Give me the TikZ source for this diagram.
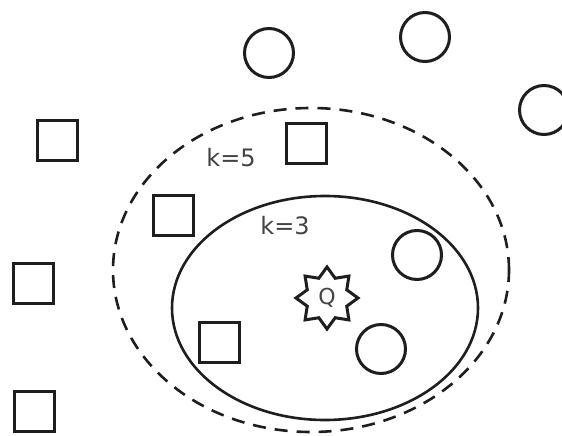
\documentclass[tikz,border=0pt]{standalone}
\usepackage{fontspec}
\setmainfont{DejaVu Sans}
\usetikzlibrary{shapes.geometric}
\definecolor{ink}{HTML}{1E1E1E}
\definecolor{txt}{HTML}{444444}
\tikzset{
  pt/.style={draw=ink, line width=3pt, inner sep=0pt},
  ptcircle/.style={pt, circle, minimum size=49pt},
  ptsquare/.style={pt, rectangle, minimum size=40pt},
  ring/.style={draw=ink, line width=2.6pt, ellipse, inner sep=0pt},
  lbl/.style={text=txt, font=\fontsize{24}{24}\selectfont, inner sep=0pt},
}
\begin{document}
\begin{tikzpicture}[x=1pt, y=-1pt]
\useasboundingbox (0,0) rectangle (562,436);
\fill[white] (0,0) rectangle (562,436);
% neighbourhoods
\node[ring, dash pattern=on 13pt off 9pt, minimum width=396pt, minimum height=324pt] (k5) at (311,270) {};
\node[ring, minimum width=306pt, minimum height=224pt] (k3) at (325,308) {};
% labels
\node[lbl] (l5) at (231,158) {k=5};
\node[lbl] (l3) at (285,226) {k=3};
% squares
\node[ptsquare] (s1) at (57,140) {};
\node[ptsquare] (s2) at (173,215) {};
\node[ptsquare] (s3) at (33,283) {};
\node[ptsquare] (s4) at (34,411) {};
\node[ptsquare] (s5) at (306,143) {};
\node[ptsquare] (s6) at (219,342) {};
% circles
\node[ptcircle] (c1) at (269,53) {};
\node[ptcircle] (c2) at (425,37) {};
\node[ptcircle] (c3) at (544,110) {};
\node[ptcircle] (c4) at (417,255) {};
\node[ptcircle] (c5) at (381,349) {};
% query
\node[draw=ink, line width=3pt, star, star points=8, star point ratio=1.45, minimum size=62pt, inner sep=0pt, text=txt, font=\fontsize{22}{22}\selectfont] (q) at (327,298) {Q};
\end{tikzpicture}
\end{document}
